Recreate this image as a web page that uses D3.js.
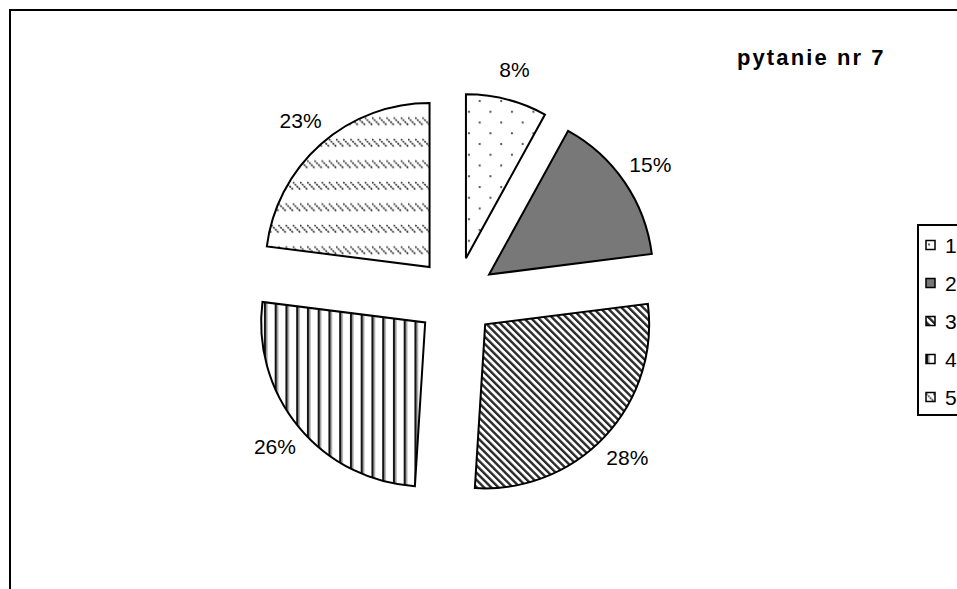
<!DOCTYPE html>
<html><head><meta charset="utf-8">
<script src="https://cdn.jsdelivr.net/npm/d3@7"></script>
<style>body{margin:0;background:#fff}svg{display:block}text{font-family:"Liberation Sans",Arial,sans-serif;fill:#000}</style>
</head><body><svg id="c" width="957" height="589"></svg>
<script>
// ---- data ----
const categories = ["1", "2", "3", "4", "5"];
const values = [8, 15, 28, 26, 23];
const labels = ["8%", "15%", "28%", "26%", "23%"];
const title = "pytanie nr 7";

// ---- layout ----
const W = 957, H = 589;
const cx = 456, cy = 297, R = 164, explode = 40, labelGap = 31;

const svg = d3.select("#c");
svg.append("rect").attr("width", W).attr("height", H).attr("fill", "#fff");
const defs = svg.append("defs");

// pattern 1: sparse staggered dots
const p1 = defs.append("pattern").attr("id", "p1").attr("patternUnits", "userSpaceOnUse")
  .attr("width", 21.5).attr("height", 21.5);
p1.append("rect").attr("width", 21.5).attr("height", 21.5).attr("fill", "#fff");
p1.append("rect").attr("x", 2).attr("y", 3).attr("width", 2).attr("height", 2).attr("fill", "#555");
p1.append("rect").attr("x", 12.75).attr("y", 13.75).attr("width", 2).attr("height", 2).attr("fill", "#555");

// pattern 2: fine dark checker
const p2 = defs.append("pattern").attr("id", "p2").attr("patternUnits", "userSpaceOnUse")
  .attr("width", 2).attr("height", 2);
p2.append("rect").attr("width", 2).attr("height", 2).attr("fill", "#bdbdbd");
p2.append("rect").attr("width", 1).attr("height", 1).attr("fill", "#333");
p2.append("rect").attr("x", 1).attr("y", 1).attr("width", 1).attr("height", 1).attr("fill", "#333");

// pattern 3: dense downward diagonal stripes
const p3 = defs.append("pattern").attr("id", "p3").attr("patternUnits", "userSpaceOnUse")
  .attr("width", 5.1).attr("height", 10).attr("patternTransform", "rotate(-45)");
p3.append("rect").attr("width", 5.1).attr("height", 10).attr("fill", "#fff");
p3.append("rect").attr("width", 2.4).attr("height", 10).attr("fill", "#2a2a2a");

// pattern 4: vertical lines
const p4 = defs.append("pattern").attr("id", "p4").attr("patternUnits", "userSpaceOnUse")
  .attr("width", 10.75).attr("height", 10);
p4.append("rect").attr("width", 10.75).attr("height", 10).attr("fill", "#fff");
p4.append("rect").attr("width", 2.4).attr("height", 10).attr("fill", "#151515");
p4.append("rect").attr("x", 2.4).attr("width", 1.2).attr("height", 10).attr("fill", "#9a9a9a");

// pattern 5: dashed downward diagonal rows
const p5 = defs.append("pattern").attr("id", "p5").attr("patternUnits", "userSpaceOnUse")
  .attr("width", 7.2).attr("height", 21.5);
p5.append("rect").attr("width", 7.2).attr("height", 21.5).attr("fill", "#fff");
p5.append("path").attr("d", "M0,1 L8,9 M-7.2,1 L0.8,9").attr("stroke", "#3a3a3a")
  .attr("stroke-width", 1.7).attr("stroke-dasharray", "2 0.8");

// outer chart border (continues beyond right/bottom edges)
svg.append("rect").attr("x", 10).attr("y", 10).attr("width", W + 20).attr("height", H + 20)
  .attr("fill", "none").attr("stroke", "#000").attr("stroke-width", 2);

// ---- pie ----
const pieData = d3.pie().sort(null).value(d => d)(values);
const arc = d3.arc().innerRadius(0).outerRadius(R);
const g = svg.append("g").attr("transform", `translate(${cx},${cy})`);

pieData.forEach((p, i) => {
  const m = (p.startAngle + p.endAngle) / 2;
  const dx = Math.sin(m) * explode, dy = -Math.cos(m) * explode;
  g.append("path")
    .attr("d", arc(p))
    .attr("transform", `translate(${dx},${dy})`)
    .attr("fill", `url(#p${i + 1})`)
    .attr("stroke", "#000").attr("stroke-width", 2).attr("stroke-linejoin", "miter");
  const lr = R + labelGap;
  g.append("text")
    .attr("x", dx + Math.sin(m) * lr)
    .attr("y", dy - Math.cos(m) * lr)
    .attr("dy", "0.36em")
    .attr("text-anchor", "middle")
    .style("font-size", "21px")
    .text(labels[i]);
});

// ---- title ----
svg.append("text").attr("x", 737).attr("y", 65)
  .style("font-size", "22px").style("font-weight", "bold").style("letter-spacing", "2.1px")
  .text(title);

// ---- legend ----
const lx = 918, ly = 225, rowH = 38;
svg.append("rect").attr("x", lx).attr("y", ly).attr("width", 100).attr("height", 190)
  .attr("fill", "#fff").attr("stroke", "#000").attr("stroke-width", 2);
const leg = svg.append("g");
categories.forEach((c, i) => {
  const yy = ly + 20 + i * rowH;
  const sw = leg.append("g").attr("transform", `translate(${lx + 8},${yy - 4.5})`);
  sw.append("rect").attr("width", 9).attr("height", 9)
    .attr("fill", `url(#p${i + 1})`).attr("stroke", "#000").attr("stroke-width", 1.5);
  leg.append("text").attr("x", lx + 27).attr("y", yy).attr("dy", "0.36em")
    .style("font-size", "21px").text(c);
});
</script></body></html>
